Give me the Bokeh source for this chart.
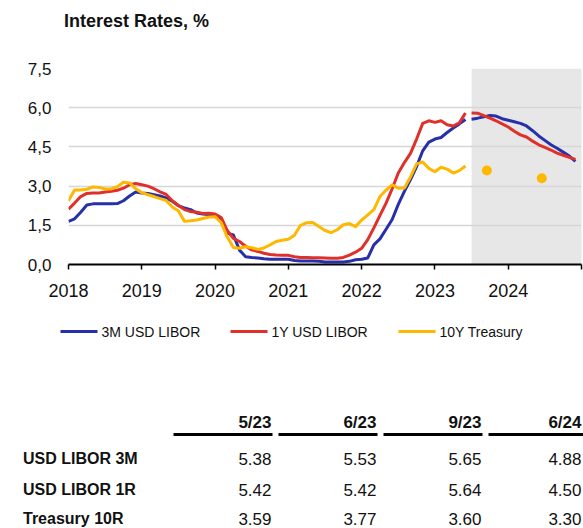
import numpy as np
from bokeh.plotting import figure
from bokeh.models import Range1d, FixedTicker
from bokeh.embed import file_html
from bokeh.resources import INLINE
from bokeh.core.properties import value

FONT = "Liberation Sans"

# ---------------- data ----------------
title_text = "Interest Rates, %"
series_names = ["3M USD LIBOR", "1Y USD LIBOR", "10Y Treasury"]
series_colors = ["#2530AA", "#E0302A", "#FFB800"]

hist_start_year = 2018          # monthly history Jan 2018 .. Jun 2023
libor3m_hist = [1.65, 1.75, 2.00, 2.28, 2.32, 2.32, 2.32, 2.32, 2.33, 2.44, 2.62, 2.77,
                2.74, 2.72, 2.67, 2.62, 2.55, 2.42, 2.25, 2.16, 2.10, 1.97, 1.93, 1.91,
                1.89, 1.75, 1.20, 1.13, 0.55, 0.30, 0.27, 0.25, 0.22, 0.20, 0.20, 0.20,
                0.20, 0.15, 0.13, 0.13, 0.13, 0.12, 0.10, 0.10, 0.10, 0.10, 0.12, 0.18,
                0.20, 0.25, 0.75, 0.98, 1.35, 1.72, 2.30, 2.80, 3.25, 3.75, 4.35, 4.68,
                4.80, 4.86, 5.05, 5.22, 5.38, 5.55]
libor1y_hist = [2.12, 2.35, 2.60, 2.72, 2.74, 2.74, 2.77, 2.80, 2.84, 2.92, 3.05, 3.10,
                3.05, 3.00, 2.90, 2.78, 2.68, 2.44, 2.26, 2.10, 2.03, 2.00, 1.95, 1.96,
                1.93, 1.80, 1.30, 1.00, 0.88, 0.70, 0.56, 0.50, 0.43, 0.38, 0.36, 0.35,
                0.35, 0.30, 0.27, 0.27, 0.26, 0.26, 0.25, 0.24, 0.24, 0.27, 0.36, 0.47,
                0.62, 0.95, 1.40, 1.88, 2.35, 2.90, 3.50, 3.90, 4.25, 4.80, 5.40, 5.50,
                5.44, 5.50, 5.35, 5.30, 5.42, 5.80]
treasury10y_hist = [2.44, 2.85, 2.85, 2.88, 2.97, 2.95, 2.89, 2.89, 2.98, 3.15, 3.12, 2.90,
                    2.75, 2.67, 2.60, 2.52, 2.45, 2.20, 2.05, 1.65, 1.67, 1.70, 1.76, 1.82,
                    1.83, 1.60, 1.05, 0.65, 0.62, 0.68, 0.64, 0.58, 0.63, 0.75, 0.88, 0.93,
                    0.97, 1.12, 1.50, 1.60, 1.61, 1.45, 1.30, 1.22, 1.33, 1.52, 1.57, 1.45,
                    1.70, 1.90, 2.10, 2.60, 2.85, 3.05, 2.92, 2.93, 3.35, 3.85, 3.92, 3.68,
                    3.55, 3.72, 3.65, 3.50, 3.59, 3.77]

fc_start_year, fc_start_month = 2023, 7   # monthly forecast Jul 2023 .. Dec 2024
libor3m_fc = [5.56, 5.60, 5.65, 5.70, 5.68, 5.58, 5.52, 5.46, 5.40, 5.30, 5.12, 4.92,
              4.75, 4.58, 4.45, 4.30, 4.15, 3.95]
libor1y_fc = [5.80, 5.79, 5.70, 5.60, 5.50, 5.38, 5.26, 5.10, 4.96, 4.88, 4.72, 4.58,
              4.48, 4.38, 4.26, 4.18, 4.10, 4.02]
treasury_fc_dates = [(2023, 9), (2024, 6)]
treasury_fc = [3.60, 3.30]

forecast_shade_start = 2023.5
x_ticks = [2018, 2019, 2020, 2021, 2022, 2023, 2024, 2025]
x_tick_labels = ["2018", "2019", "2020", "2021", "2022", "2023", "2024", ""]
y_ticks = [0.0, 1.5, 3.0, 4.5, 6.0, 7.5]
y_tick_labels = ["0,0", "1,5", "3,0", "4,5", "6,0", "7,5"]

table_cols = ["5/23", "6/23", "9/23", "6/24"]
table_rows = ["USD LIBOR 3M", "USD LIBOR 1R", "Treasury 10R"]
table_vals = [["5.38", "5.53", "5.65", "4.88"],
              ["5.42", "5.42", "5.64", "4.50"],
              ["3.59", "3.77", "3.60", "3.30"]]

# --------------- derived x positions ---------------
hist_x = [hist_start_year + m / 12 for m in range(len(libor3m_hist))]
fc_x = [fc_start_year + (fc_start_month - 1 + m) / 12 for m in range(len(libor3m_fc))]
tr_x = [y + (mo - 0.5) / 12 for (y, mo) in treasury_fc_dates]

W = 583
TH = 56      # title strip
CH = 254     # chart
BH = 218     # legend + table


def pixel_fig(h, top):
    f = figure(width=W, height=h, output_backend="svg", toolbar_location=None,
               x_range=Range1d(0, W), y_range=Range1d(top + h, top),
               x_axis_type=None, y_axis_type=None,
               min_border_left=0, min_border_right=0, min_border_top=0, min_border_bottom=0)
    f.outline_line_color = None
    f.xgrid.grid_line_color = None
    f.ygrid.grid_line_color = None
    return f

# --------------- title strip ---------------
t = pixel_fig(TH, 0)
t.text(x=[63.5], y=[20.5], text=[title_text], text_font=value(FONT), text_font_size="18px",
       text_font_style="bold", text_color="#111111", text_align="left", text_baseline="middle")

# --------------- chart figure ---------------
p = figure(width=W, height=CH, output_backend="svg", toolbar_location=None,
           x_range=Range1d(2018, 2025), y_range=Range1d(0, 7.5),
           min_border_left=68, min_border_right=2, min_border_top=12, min_border_bottom=46)
p.outline_line_color = None
p.background_fill_color = "white"
p.xgrid.grid_line_color = None
p.ygrid.grid_line_color = "#d6d6d6"
p.ygrid.grid_line_width = 1.5
p.ygrid.ticker = FixedTicker(ticks=y_ticks)

p.quad(left=[forecast_shade_start], right=[2025.05], bottom=[0], top=[7.5],
       fill_color="#e7e7e7", line_color=None, level="image")

hist_series = [libor3m_hist, libor1y_hist, treasury10y_hist]
for vals, col in zip(hist_series, series_colors):
    p.line(hist_x, vals, line_color=col, line_width=3, line_join="round")
p.line(fc_x, libor3m_fc, line_color=series_colors[0], line_width=3, line_join="round")
p.line(fc_x, libor1y_fc, line_color=series_colors[1], line_width=3, line_join="round")
p.scatter(tr_x, treasury_fc, size=10, fill_color=series_colors[2], line_color=None)

xa = p.xaxis[0]
xa.ticker = FixedTicker(ticks=x_ticks)
xa.major_label_overrides = {tk: s for tk, s in zip(x_ticks, x_tick_labels)}
xa.axis_line_color = "black"
xa.axis_line_width = 2
xa.major_tick_line_color = "black"
xa.major_tick_line_width = 1.5
xa.major_tick_in = 0
xa.major_tick_out = 5
xa.minor_tick_line_color = None
xa.major_label_standoff = 14
xa.major_label_text_font = FONT
xa.major_label_text_font_size = "18px"
xa.major_label_text_color = "#111111"

ya = p.yaxis[0]
ya.ticker = FixedTicker(ticks=y_ticks)
ya.major_label_overrides = {tk: s for tk, s in zip(y_ticks, y_tick_labels)}
ya.axis_line_color = None
ya.major_tick_line_color = None
ya.minor_tick_line_color = None
ya.major_tick_in = 0
ya.major_tick_out = 0
ya.major_label_standoff = 17
ya.major_label_text_font = FONT
ya.major_label_text_font_size = "17px"
ya.major_label_text_color = "#111111"

# --------------- legend + table (page pixel coords) ---------------
q = pixel_fig(BH, TH + CH)

leg_y = 331
leg_x0 = [60, 230, 398]
q.segment(x0=leg_x0, y0=[leg_y] * 3, x1=[x + 37 for x in leg_x0], y1=[leg_y] * 3,
          line_color=series_colors, line_width=3)
q.text(x=[x + 41 for x in leg_x0], y=[leg_y + 0.5] * 3, text=series_names,
       text_font=value(FONT), text_font_size="14px", text_color="#111111",
       text_align="left", text_baseline="middle")

col_right = [271, 376, 481, 581]
line_left = [173, 278, 383, 488]
line_right = [272, 377, 482, 590]
hdr_y = 421.5
line_y = 434
row_y = [458, 489, 518]
q.text(x=col_right, y=[hdr_y] * 4, text=table_cols, text_font=value(FONT),
       text_font_size="17px", text_font_style="bold", text_color="#111111",
       text_align="right", text_baseline="middle")
q.segment(x0=line_left, y0=[line_y] * 4, x1=line_right, y1=[line_y] * 4,
          line_color="black", line_width=3)
q.text(x=[22.5] * 3, y=row_y, text=table_rows, text_font=value(FONT),
       text_font_size="16px", text_font_style="bold", text_color="#111111",
       text_align="left", text_baseline="middle")
cx, cy, ct = [], [], []
for ri, row in enumerate(table_vals):
    for ci, v in enumerate(row):
        cx.append(col_right[ci]); cy.append(row_y[ri]); ct.append(v)
q.text(x=cx, y=cy, text=ct, text_font=value(FONT), text_font_size="17px",
       text_color="#111111", text_align="right", text_baseline="middle")

# separate roots so the figures' frames are not aligned to one another
open("out.html", "w").write(file_html([t, p, q], INLINE))
